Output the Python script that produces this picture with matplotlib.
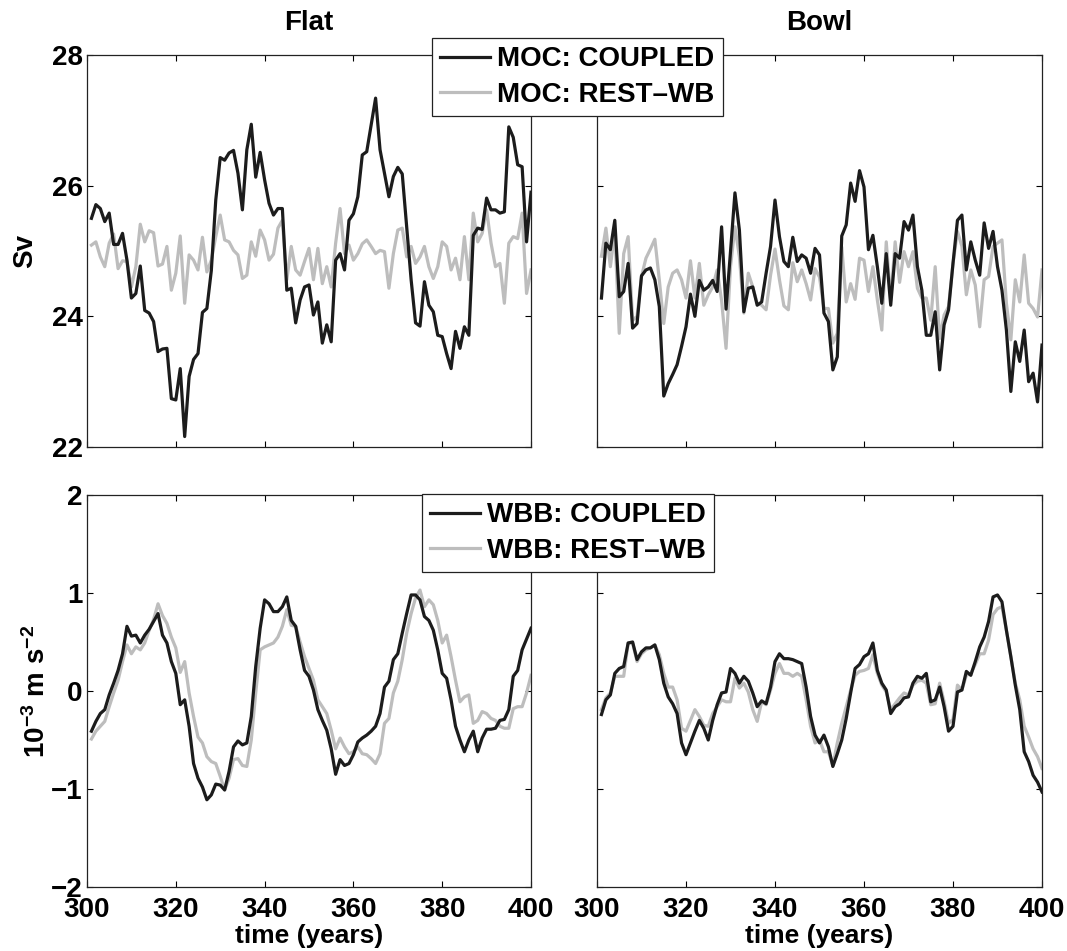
import numpy as np
import matplotlib
matplotlib.use("Agg")
import matplotlib.pyplot as plt

plt.rcParams['font.family'] = ['Liberation Sans', 'DejaVu Sans']
plt.rcParams['font.weight'] = 'bold'
plt.rcParams['mathtext.fontset'] = 'custom'
plt.rcParams['mathtext.bf'] = 'Liberation Sans:bold'
plt.rcParams['mathtext.rm'] = 'Liberation Sans:bold'
plt.rcParams['mathtext.default'] = 'bf'

years = np.arange(301, 401)

# MOC (Sv), flat bottom
moc_flat_coupled = [
    25.50, 25.71, 25.65, 25.45, 25.58, 25.10, 25.10, 25.27, 24.86, 24.28,
    24.35, 24.77, 24.09, 24.05, 23.92, 23.46, 23.50, 23.51, 22.74, 22.72,
    23.20, 22.16, 23.08, 23.34, 23.43, 24.06, 24.12, 24.70, 25.78, 26.43,
    26.39, 26.50, 26.54, 26.19, 25.63, 26.55, 26.94, 26.13, 26.51, 26.09,
    25.73, 25.55, 25.65, 25.65, 24.40, 24.43, 23.90, 24.25, 24.45, 24.48,
    24.02, 24.22, 23.59, 23.87, 23.61, 24.86, 24.96, 24.71, 25.47, 25.57,
    25.83, 26.47, 26.52, 26.93, 27.34, 26.55, 26.19, 25.83, 26.14, 26.28,
    26.18, 25.37, 24.56, 23.90, 23.85, 24.53, 24.17, 24.07, 23.71, 23.69,
    23.43, 23.20, 23.77, 23.51, 23.84, 23.71, 25.24, 25.35, 25.33, 25.81,
    25.63, 25.63, 25.58, 25.60, 26.90, 26.74, 26.32, 26.29, 25.14, 25.90]
moc_flat_rest = [
    25.09, 25.14, 24.91, 24.76, 25.12, 25.26, 24.73, 24.85, 24.84, 24.45,
    24.76, 25.41, 25.14, 25.31, 25.28, 24.77, 24.80, 25.07, 24.40, 24.66,
    25.23, 24.20, 24.94, 24.86, 24.71, 25.21, 24.68, 24.86, 25.22, 25.55,
    25.17, 25.14, 25.01, 24.94, 24.58, 24.63, 25.14, 24.92, 25.32, 25.17,
    24.86, 24.95, 25.35, 25.47, 24.56, 25.07, 24.71, 24.63, 24.84, 25.04,
    24.56, 25.04, 24.50, 24.76, 24.45, 25.12, 25.65, 24.96, 25.09, 24.86,
    24.96, 25.11, 25.17, 25.07, 24.96, 25.01, 24.99, 24.43, 24.96, 25.32,
    25.35, 24.91, 25.07, 24.81, 24.91, 25.07, 24.76, 24.58, 24.76, 25.14,
    25.07, 24.71, 24.89, 24.56, 25.22, 24.56, 25.58, 25.14, 25.27, 25.63,
    25.12, 24.76, 24.81, 24.20, 25.12, 25.22, 25.19, 25.58, 24.35, 24.71]

# MOC (Sv), bowl bottom
moc_bowl_coupled = [
    24.28, 25.12, 25.02, 25.47, 24.30, 24.38, 24.81, 23.82, 23.89, 24.62,
    24.71, 24.74, 24.56, 24.15, 22.78, 22.97, 23.11, 23.26, 23.54, 23.84,
    24.34, 24.00, 24.55, 24.40, 24.45, 24.55, 24.38, 25.37, 24.11, 24.99,
    25.89, 25.32, 24.07, 24.43, 24.45, 24.17, 24.22, 24.66, 25.07, 25.78,
    25.22, 24.84, 24.76, 25.21, 24.84, 24.94, 24.89, 24.66, 25.04, 24.94,
    24.05, 23.92, 23.18, 23.38, 25.23, 25.40, 26.04, 25.76, 26.23, 25.98,
    25.02, 25.24, 24.76, 24.20, 24.96, 24.17, 24.96, 24.89, 25.45, 25.32,
    25.55, 24.76, 24.40, 23.71, 23.71, 24.07, 23.18, 23.87, 24.10, 24.81,
    25.47, 25.55, 24.71, 25.14, 24.86, 24.63, 25.43, 25.04, 25.30, 24.76,
    24.40, 23.79, 22.85, 23.61, 23.31, 23.79, 23.00, 23.13, 22.69, 23.56]
moc_bowl_rest = [
    24.92, 25.35, 24.76, 25.30, 23.74, 24.96, 25.22, 23.94, 24.00, 24.61,
    24.89, 25.03, 25.18, 24.56, 23.89, 24.45, 24.66, 24.71, 24.56, 24.28,
    24.85, 24.28, 24.81, 24.17, 24.33, 24.45, 24.71, 24.24, 23.51, 24.76,
    25.37, 24.91, 24.05, 24.66, 24.45, 24.20, 24.17, 24.10, 24.63, 25.03,
    24.56, 24.16, 24.10, 24.82, 24.53, 24.71, 24.50, 24.25, 24.73, 24.60,
    24.12, 24.12, 23.59, 23.74, 25.06, 24.22, 24.50, 24.26, 24.89, 24.86,
    24.38, 24.76, 24.25, 23.79, 25.14, 24.25, 25.14, 24.52, 24.99, 24.76,
    24.99, 24.43, 24.28, 24.28, 23.94, 24.76, 23.66, 24.02, 24.15, 24.81,
    25.30, 25.07, 24.33, 24.71, 24.48, 23.84, 24.56, 24.61, 25.07, 25.12,
    25.17, 24.20, 23.64, 24.56, 24.22, 24.94, 24.20, 24.12, 23.99, 24.71]

# WBB (1e-3 m s-2), flat bottom
wbb_flat_coupled = [
    -0.41, -0.31, -0.23, -0.19, -0.04, 0.08, 0.21, 0.38, 0.66, 0.56,
    0.57, 0.49, 0.57, 0.63, 0.71, 0.79, 0.57, 0.49, 0.30, 0.18,
    -0.14, -0.09, -0.36, -0.74, -0.89, -0.98, -1.11, -1.06, -0.95, -0.96,
    -1.01, -0.82, -0.57, -0.51, -0.55, -0.53, -0.26, 0.25, 0.64, 0.93,
    0.89, 0.81, 0.81, 0.86, 0.96, 0.72, 0.66, 0.42, 0.21, 0.15,
    0.01, -0.19, -0.30, -0.40, -0.59, -0.85, -0.70, -0.76, -0.74, -0.65,
    -0.52, -0.48, -0.45, -0.41, -0.36, -0.23, 0.04, 0.10, 0.32, 0.38,
    0.59, 0.79, 0.98, 0.98, 0.93, 0.76, 0.72, 0.62, 0.42, 0.18,
    0.13, -0.09, -0.36, -0.50, -0.62, -0.50, -0.41, -0.62, -0.48, -0.39,
    -0.39, -0.38, -0.30, -0.29, -0.19, 0.15, 0.21, 0.42, 0.53, 0.64]
wbb_flat_rest = [
    -0.49, -0.41, -0.36, -0.31, -0.16, -0.02, 0.11, 0.30, 0.47, 0.38,
    0.45, 0.42, 0.49, 0.62, 0.73, 0.89, 0.77, 0.69, 0.55, 0.44,
    0.19, 0.30, -0.02, -0.26, -0.47, -0.53, -0.67, -0.72, -0.74, -0.87,
    -1.01, -0.89, -0.70, -0.69, -0.76, -0.77, -0.50, -0.02, 0.42, 0.45,
    0.47, 0.49, 0.55, 0.66, 0.83, 0.67, 0.66, 0.50, 0.35, 0.23,
    0.11, -0.09, -0.16, -0.23, -0.40, -0.59, -0.48, -0.57, -0.64, -0.62,
    -0.57, -0.64, -0.65, -0.69, -0.74, -0.64, -0.33, -0.28, -0.02, 0.10,
    0.32, 0.59, 0.79, 0.95, 1.03, 0.86, 0.93, 0.88, 0.72, 0.49,
    0.57, 0.35, 0.11, -0.11, -0.06, -0.04, -0.33, -0.30, -0.21, -0.23,
    -0.28, -0.30, -0.36, -0.38, -0.38, -0.18, -0.16, -0.16, -0.02, 0.16]

# WBB (1e-3 m s-2), bowl bottom
wbb_bowl_coupled = [
    -0.24, -0.09, -0.04, 0.18, 0.23, 0.25, 0.49, 0.50, 0.32, 0.40,
    0.44, 0.44, 0.47, 0.32, 0.08, -0.06, -0.13, -0.23, -0.53, -0.65,
    -0.53, -0.41, -0.30, -0.38, -0.50, -0.30, -0.14, -0.02, -0.01, 0.23,
    0.18, 0.08, 0.15, 0.10, -0.02, -0.16, -0.10, -0.13, 0.04, 0.30,
    0.38, 0.33, 0.33, 0.32, 0.30, 0.28, 0.04, -0.26, -0.45, -0.53,
    -0.45, -0.57, -0.77, -0.64, -0.50, -0.28, -0.02, 0.23, 0.27, 0.35,
    0.38, 0.49, 0.21, 0.08, 0.01, -0.23, -0.16, -0.13, -0.07, -0.06,
    0.08, 0.15, 0.13, 0.18, -0.11, -0.09, 0.04, -0.16, -0.41, -0.36,
    -0.01, 0.01, 0.20, 0.16, 0.30, 0.45, 0.55, 0.71, 0.96, 0.98,
    0.91, 0.62, 0.35, 0.06, -0.19, -0.62, -0.72, -0.86, -0.93, -1.03]
wbb_bowl_rest = [
    -0.19, -0.07, -0.02, 0.15, 0.15, 0.15, 0.49, 0.49, 0.30, 0.38,
    0.42, 0.44, 0.47, 0.37, 0.18, 0.04, 0.04, -0.09, -0.38, -0.41,
    -0.30, -0.19, -0.26, -0.35, -0.36, -0.23, -0.16, -0.09, -0.11, -0.11,
    0.13, 0.03, 0.08, -0.01, -0.19, -0.31, -0.11, -0.14, 0.01, 0.18,
    0.28, 0.18, 0.18, 0.15, 0.18, 0.15, -0.09, -0.36, -0.53, -0.50,
    -0.62, -0.62, -0.76, -0.53, -0.33, -0.16, 0.01, 0.16, 0.20, 0.21,
    0.23, 0.37, 0.18, 0.06, -0.01, -0.19, -0.13, -0.07, -0.02, -0.04,
    0.06, 0.10, 0.11, 0.08, -0.14, -0.13, 0.08, -0.11, -0.33, -0.29,
    0.06, 0.01, 0.16, 0.18, 0.27, 0.38, 0.38, 0.52, 0.78, 0.84,
    0.86, 0.62, 0.35, 0.08, -0.09, -0.36, -0.47, -0.59, -0.67, -0.79]

xticks = [300, 320, 340, 360, 380, 400]
moc_ticks = [22, 24, 26, 28]
wbb_ticks = [-2, -1, 0, 1, 2]

BLACK = '#1c1c1c'
GREY = '#bdbdbd'
FS = 20

W, H = 1067, 951
fig = plt.figure(figsize=(W / 100, H / 100), dpi=100)


def make_axes(x0, x1, y0, y1):
    return fig.add_axes([x0 / W, 1 - y1 / H, (x1 - x0) / W, (y1 - y0) / H])


ax_tl = make_axes(87, 531, 55, 447)
ax_tr = make_axes(597, 1042, 55, 447)
ax_bl = make_axes(87, 531, 495, 887)
ax_br = make_axes(597, 1042, 495, 887)

panels = [
    (ax_tl, moc_flat_coupled, moc_flat_rest, 'MOC'),
    (ax_tr, moc_bowl_coupled, moc_bowl_rest, 'MOC'),
    (ax_bl, wbb_flat_coupled, wbb_flat_rest, 'WBB'),
    (ax_br, wbb_bowl_coupled, wbb_bowl_rest, 'WBB'),
]

handles = {}
for ax, coupled, rest, name in panels:
    h1, = ax.plot(years, coupled, color=BLACK, lw=2.3, zorder=3,
                  label=name + ': COUPLED')
    h2, = ax.plot(years, rest, color=GREY, lw=2.3, zorder=2,
                  label=name + ': REST\u2013WB')
    handles[name] = [h1, h2]
    ax.set_xlim(300, 400)
    ax.set_xticks(xticks)
    ax.tick_params(direction='in', length=4, width=0.8, top=True, right=True,
                   labelsize=FS)
    ax.tick_params(axis='y', pad=3)
    ax.tick_params(axis='x', pad=7)
    for sp in ax.spines.values():
        sp.set_linewidth(0.9)
        sp.set_color('#222222')

for ax in (ax_tl, ax_tr):
    ax.set_ylim(22, 28)
    ax.set_yticks(moc_ticks)
    ax.set_xticklabels([])
for ax in (ax_bl, ax_br):
    ax.set_ylim(-2, 2)
    ax.set_yticks(wbb_ticks)
    ax.set_yticklabels(['\u22122', '\u22121', '0', '1', '2'])
    ax.set_xlabel('time (years)', fontsize=19, fontweight='bold', labelpad=1)
for ax in (ax_tr, ax_br):
    ax.set_yticklabels([])

ax_tl.set_title('Flat', fontsize=FS, fontweight='bold', pad=18)
ax_tr.set_title('Bowl', fontsize=FS, fontweight='bold', pad=18)
ax_tl.set_ylabel('Sv', fontsize=FS, fontweight='bold', labelpad=10)
ax_bl.set_ylabel('10$^{-3}$ m s$^{-2}$', fontsize=FS, fontweight='bold', labelpad=0)

leg_kw = dict(loc='upper left', fontsize=FS, frameon=True, fancybox=False,
              framealpha=1, edgecolor='#222222', handlelength=1.8,
              borderaxespad=0, borderpad=0.3, labelspacing=0.35,
              handletextpad=0.25)
leg1 = fig.legend(handles=handles['MOC'], bbox_to_anchor=(432 / W, 1 - 38 / H),
                  **leg_kw)
leg2 = fig.legend(handles=handles['WBB'], bbox_to_anchor=(422 / W, 1 - 494 / H),
                  **leg_kw)
for leg in (leg1, leg2):
    leg.get_frame().set_linewidth(0.9)
    leg.set_zorder(10)

fig.savefig('out.png', dpi=100)
